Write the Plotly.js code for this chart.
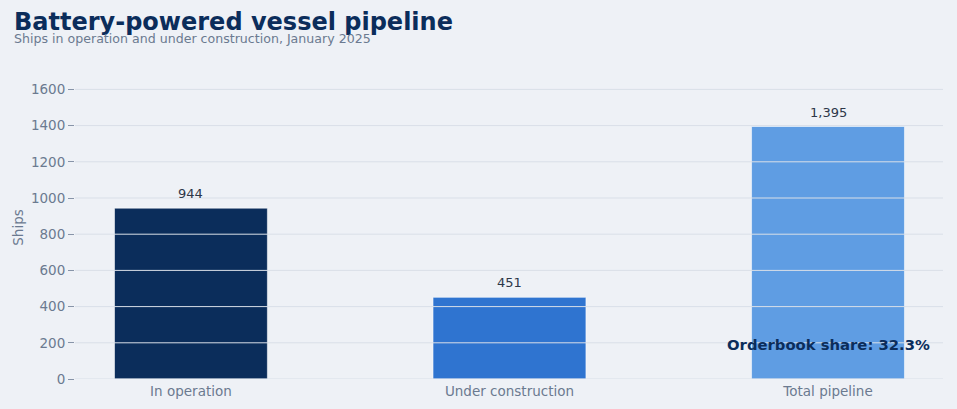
<!DOCTYPE html>
<html>
<head>
<meta charset="utf-8">
<script src="https://cdn.plot.ly/plotly-3.0.1.min.js"></script>
<style>
  html, body { margin: 0; padding: 0; background: #eef1f6; }
  #chart { width: 957px; height: 409px; }
</style>
</head>
<body>
<div id="chart"></div>
<script>
const categories = ["In operation", "Under construction", "Total pipeline"]
const ships = [944, 451, 1395]
const barColors = ["#0b2d5b", "#2f74d0", "#5f9de3"]
const yTicks = [0, 200, 400, 600, 800, 1000, 1200, 1400, 1600]
const orderbookShare = 32.3

const grey = "#6b7a90"
const navy = "#0b2d5b"
const gridColor = "#d9dfe8"

const traces = [{
    type: "bar",
    x: categories,
    y: ships,
    width: 0.48,
    marker: {
        color: barColors,
        line: {color: "rgba(255,255,255,0.55)", width: 1}
    },
    hoverinfo: "skip",
    showlegend: false
}]

// value labels sit a bit higher than plotly's own "outside" text
const valueLabels = categories.map((c, i) => ({
    text: ships[i].toLocaleString("en-US"),
    x: c, y: ships[i],
    xref: "x", yref: "y",
    xanchor: "center", yanchor: "bottom",
    yshift: 5,
    showarrow: false,
    font: {family: "DejaVu Sans", size: 13, color: "#2d3748"}
}))

// grid is drawn on top of the bars in the reference
const gridLines = yTicks.map(v => ({
    type: "line",
    xref: "paper", yref: "y",
    x0: 0, x1: 1, y0: v, y1: v,
    layer: "above",
    line: {color: gridColor, width: 1}
}))

const layout = {
    width: 957,
    height: 409,
    paper_bgcolor: "#eef1f6",
    plot_bgcolor: "#eef1f6",
    font: {family: "DejaVu Sans", size: 13.5, color: grey},
    margin: {l: 75, r: 14, t: 76, b: 30},
    title: {
        text: "<b>Battery-powered vessel pipeline</b>",
        font: {family: "DejaVu Sans", size: 24, color: navy},
        x: 14 / 957, xanchor: "left", xref: "container",
        y: 1 - 22 / 409, yanchor: "middle", yref: "container"
    },
    xaxis: {
        type: "category",
        range: [-0.364, 2.361],
        showgrid: false,
        zeroline: false,
        showline: false,
        ticks: "",
        ticklabelstandoff: 2,
        tickfont: {size: 13.5, color: grey}
    },
    yaxis: {
        range: [0, 1674],
        tickvals: yTicks,
        showgrid: false,
        zeroline: false,
        showline: false,
        ticks: "outside",
        ticklen: 6,
        tickcolor: "#8794a8",
        tickfont: {size: 13.5, color: grey},
        title: {text: "Ships", font: {size: 13.5, color: grey}, standoff: 4}
    },
    shapes: gridLines,
    annotations: valueLabels.concat([
        {
            text: "Ships in operation and under construction, January 2025",
            xref: "paper", yref: "paper",
            x: -63 / 868, y: 1 + 38 / 303,
            xanchor: "left", yanchor: "middle",
            showarrow: false,
            font: {family: "DejaVu Sans", size: 12.6, color: grey}
        },
        {
            text: "<b>Orderbook share: " + orderbookShare + "%</b>",
            x: categories[2], y: 188,
            xref: "x", yref: "y",
            xanchor: "center", yanchor: "middle",
            showarrow: false,
            font: {family: "DejaVu Sans", size: 14.8, color: navy}
        }
    ])
}

Plotly.newPlot("chart", traces, layout, {displayModeBar: false, staticPlot: true})
</script>
</body>
</html>
